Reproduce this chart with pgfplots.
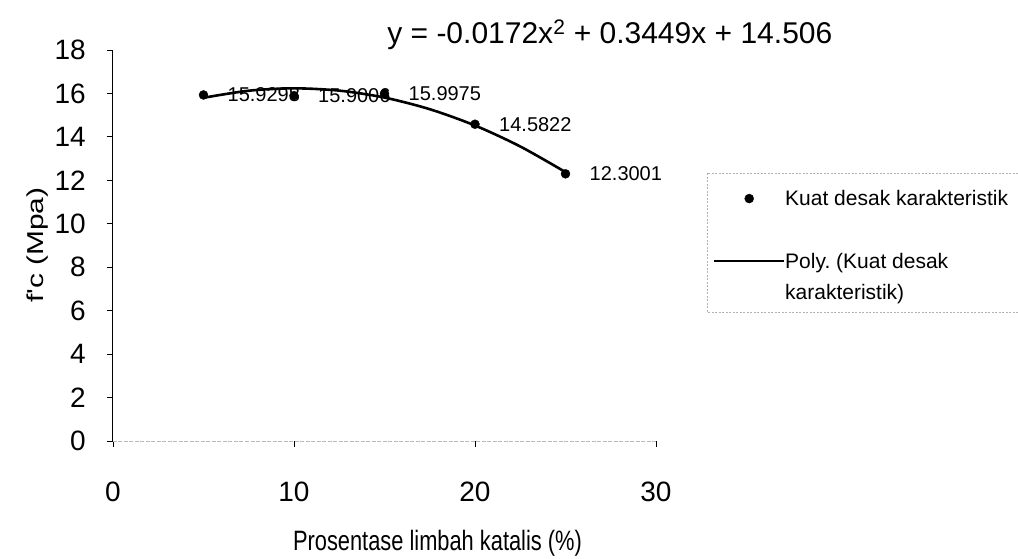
\documentclass[border=0pt]{standalone}
\usepackage{fontspec}
\setmainfont{Liberation Sans}
\newfontfamily\condfont{Liberation Sans}[FakeStretch=0.78]
\newfontfamily\tallfont{Liberation Sans}[FakeStretch=1.3]
\usepackage{pgfplots}
\pgfplotsset{compat=1.18}
\frenchspacing
\begin{document}
\begin{tikzpicture}
\useasboundingbox (-113pt,-118pt) rectangle (905pt,441pt);
\begin{axis}[
  scale only axis, width=543pt, height=391pt,
  xmin=0, xmax=30, ymin=0, ymax=18,
  clip=false,
  axis x line*=bottom, axis y line*=left,
  x axis line style={gray!55, -, line width=0.8pt, dash pattern=on 4pt off 1.5pt},
  y axis line style={black, -, line width=1pt},
  xtick={0,10,20,30}, ytick={0,2,...,18},
  tick align=outside, major tick length=6pt,
  tick style={black, line width=0.8pt, solid},
  /pgf/number format/assume math mode=true,
  ticklabel style={font=\fontsize{28}{33}\selectfont},
  xticklabel style={anchor=base, yshift=-55pt},
  yticklabel style={anchor=east, inner sep=0pt, xshift=-21pt},
  xlabel={Prosentase limbah katalis (\%)},
  ylabel={f'c (Mpa)},
  xlabel style={at={(axis description cs:0.5976,-0.2813)}, anchor=base, font=\condfont\fontsize{28}{33}\selectfont},
  ylabel style={at={(axis description cs:-0.1381,0.501)}, anchor=center, font=\tallfont\fontsize{23}{28}\selectfont},
  legend image code/.code={\draw[mark repeat=2, mark phase=2, solid, #1] plot coordinates {(0pt,0pt) (35pt,0pt) (70pt,0pt)};},
  legend style={at={(axis description cs:1.105,0.6854)}, anchor=north west,
    draw=none, fill=none,
    font=\fontsize{21}{31}\selectfont, inner xsep=0pt, inner ysep=17pt,
    nodes={inner sep=0pt}, column sep=0pt, row sep=46pt},
  legend cell align=left,
]
\addlegendimage{only marks, mark=*, mark size=4.5pt, black}
\addlegendentry{\parbox[t]{226pt}{\raggedright Kuat desak karakteristik}}
\addlegendimage{black, line width=2pt, no marks}
\addlegendentry{\parbox[t]{226pt}{\raggedright Poly. (Kuat desak\\karakteristik)}}
\addplot[only marks, mark=*, mark size=4.5pt, black, forget plot,
  point meta=explicit symbolic,
  nodes near coords,
  every node near coord/.append style={anchor=west, xshift=24pt, yshift=0pt, inner sep=0pt, font=\fontsize{20}{24}\selectfont}]
  coordinates {
  (5,15.9298) [15.9298]
  (10,15.9006) [15.9006]
  (15,15.9975) [15.9975]
  (20,14.5822) [14.5822]
  (25,12.3001) [12.3001]
  };
\addplot[black, line width=2.6pt, smooth, no marks, forget plot]
  coordinates {
  (5,15.8005) (7.5,16.1253) (10,16.2350) (12.5,16.1298) (15,15.8095)
  (17.5,15.2743) (20,14.5240) (22.5,13.5588) (25,12.3785)
  };
\draw[gray!60, line width=0.8pt, dash pattern=on 2pt off 1.5pt]
  (axis description cs:1.6667,0.6854) -- (axis description cs:1.0939,0.6854)
  -- (axis description cs:1.0939,0.3299) -- (axis description cs:1.6667,0.3299);
\node[font=\fontsize{30}{34}\selectfont, anchor=center] at (rel axis cs:0.915,1.038) {y = -0.0172x\textsuperscript{2} + 0.3449x + 14.506};
\end{axis}
\end{tikzpicture}
\end{document}
